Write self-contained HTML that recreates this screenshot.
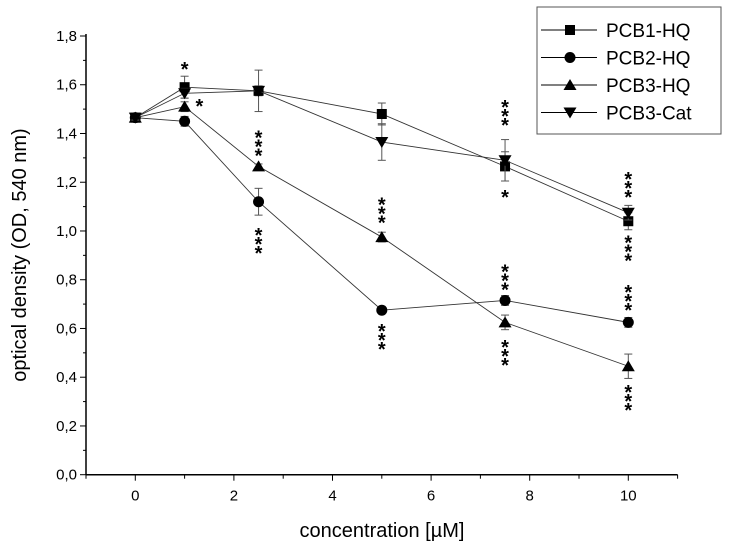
<!DOCTYPE html>
<html><head><meta charset="utf-8"><style>
html,body{margin:0;padding:0;background:#fff;}
svg{display:block;font-family:"Liberation Sans",Arial,sans-serif;}
</style></head><body>
<svg id="chart" width="729" height="550" viewBox="0 0 729 550"></svg>
<script>
const xValues=[0,1,2.5,5,7.5,10];
const seriesNames=["PCB1-HQ","PCB2-HQ","PCB3-HQ","PCB3-Cat"];
const pcb1=[1.465,1.59,1.575,1.48,1.265,1.04];
const pcb2=[1.465,1.45,1.12,0.675,0.715,0.625];
const pcb3=[1.465,1.51,1.265,0.975,0.625,0.445];
const cat=[1.465,1.565,1.575,1.365,1.29,1.075];
const err1=[0.01,0.045,0.02,0.045,0.06,0.035];
const err2=[0.01,0.02,0.055,0.01,0.02,0.02];
const err3=[0.01,0.02,0.01,0.02,0.03,0.05];
const errC=[0.01,0.02,0.085,0.075,0.085,0.03];
const yTicks=[0,0.2,0.4,0.6,0.8,1.0,1.2,1.4,1.6,1.8];
const xTicks=[0,2,4,6,8,10];
// significance markers: x value, y value of first star centre, star count
const sigX=[1,1.3,2.5,2.5,5,5,7.5,7.5,7.5,7.5,10,10,10,10];
const sigY=[1.68,1.53,1.40,1.00,1.125,0.605,1.525,1.156,0.851,0.54,1.23,0.97,0.766,0.355];
const sigN=[1,1,3,3,3,3,3,1,3,3,3,3,3,3];

const NS="http://www.w3.org/2000/svg";
const svg=document.getElementById('chart');
const X0=86,X1=677.6,Y0=474.7,Y1=36;
const xs=v=>X0+(v-(-1))/12*(X1-X0);
const ys=v=>Y0-v/1.8*(Y0-Y1);
function mk(t,a,p){const e=document.createElementNS(NS,t);for(const k in a)e.setAttribute(k,a[k]);(p||svg).appendChild(e);return e;}

const ax=mk('g',{});


mk('line',{x1:X0,y1:Y1-2,x2:X0,y2:Y0,stroke:'#000','stroke-width':1.5},ax);
mk('line',{x1:X0,y1:Y0,x2:X1,y2:Y0,stroke:'#000','stroke-width':1.5},ax);
for(let i=0;i<=18;i++){const v=i*0.1;const y=ys(v);const major=i%2===0;
 mk('line',{x1:X0-(major?6:3),y1:y,x2:X0,y2:y,stroke:'#000','stroke-width':1},ax);}
yTicks.forEach(v=>{const t=mk('text',{x:X0-9,y:ys(v)+5,'text-anchor':'end','font-size':15},ax);t.textContent=v.toFixed(1).replace('.',',');
 
 });
for(let v=-1;v<=11;v++){const x=xs(v);const major=v%2===0;
 mk('line',{x1:x,y1:Y0,x2:x,y2:Y0+(major?6:4),stroke:'#000','stroke-width':1},ax);}
xTicks.forEach(v=>{const t=mk('text',{x:xs(v),y:Y0+26,'text-anchor':'middle','font-size':15},ax);t.textContent=v;
 
 });
const xt=mk('text',{x:382,y:537,'text-anchor':'middle','font-size':20});xt.textContent='concentration [µM]';


const yt=mk('text',{x:0,y:0,'text-anchor':'middle','font-size':20,transform:'translate(26,255) rotate(-90)'});yt.textContent='optical density (OD, 540 nm)';



function marker(kind,x,y,g){
 if(kind===0)mk('rect',{x:x-5,y:y-5,width:10,height:10,fill:'#000'},g);
 else if(kind===1)mk('circle',{cx:x,cy:y,r:5.5,fill:'#000'},g);
 else if(kind===2)mk('polygon',{points:`${x},${y-6} ${x-6.5},${y+5} ${x+6.5},${y+5}`,fill:'#000'},g);
 else mk('polygon',{points:`${x},${y+6} ${x-6.5},${y-5} ${x+6.5},${y-5}`,fill:'#000'},g);
}
const all=[pcb1,pcb2,pcb3,cat],errs=[err1,err2,err3,errC];
all.forEach((d,si)=>{
 const g=mk('g',{});
 
 
 mk('polyline',{points:d.map((v,i)=>xs(xValues[i])+','+ys(v)).join(' '),fill:'none',stroke:'#333','stroke-width':0.9},g);
 d.forEach((v,i)=>{const x=xs(xValues[i]);const e=errs[si][i];
  mk('line',{x1:x,y1:ys(v+e),x2:x,y2:ys(v-e),stroke:'#555','stroke-width':1},g);
  mk('line',{x1:x-4,y1:ys(v+e),x2:x+4,y2:ys(v+e),stroke:'#555','stroke-width':1},g);
  mk('line',{x1:x-4,y1:ys(v-e),x2:x+4,y2:ys(v-e),stroke:'#555','stroke-width':1},g);
  marker(si,x,ys(v),g);});
});
sigX.forEach((xv,i)=>{
 const g=mk('g',{});
 
 
 for(let k=0;k<sigN[i];k++){const t=mk('text',{x:xs(xv),y:ys(sigY[i])+k*9+11,'text-anchor':'middle','font-size':20,'font-weight':'bold'},g);t.textContent='*';}
});
const lg=mk('g',{});


mk('rect',{x:537,y:7,width:184,height:127,fill:'#fff',stroke:'#555','stroke-width':1},lg);
seriesNames.forEach((n,i)=>{const y=30+i*27.5;
 const e=mk('g',{},lg);
 
 
 mk('line',{x1:541,y1:y,x2:597,y2:y,stroke:'#000','stroke-width':1},e);
 marker(i,570,y,e);
 const t=mk('text',{x:606,y:y+7,'font-size':19},e);t.textContent=n;});
</script>
</body></html>
